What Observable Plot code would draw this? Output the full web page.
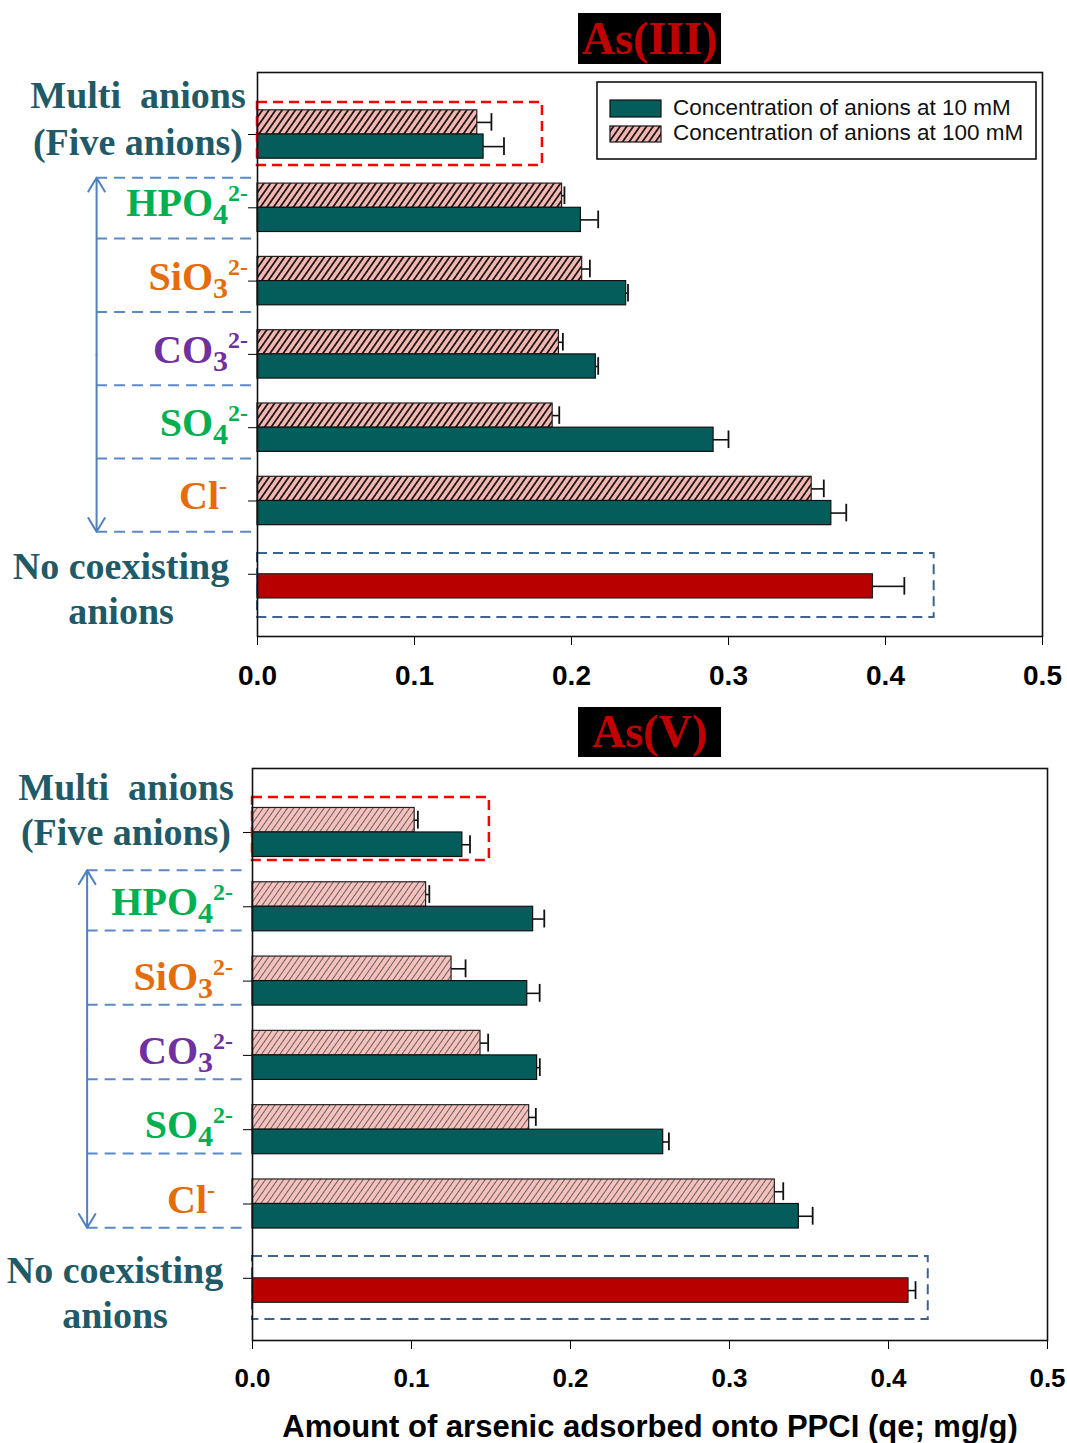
<!DOCTYPE html>
<html><head><meta charset="utf-8">
<script src="https://cdn.jsdelivr.net/npm/d3@7"></script>
<script src="https://cdn.jsdelivr.net/npm/@observablehq/plot@0.6"></script>
<style>
body{margin:0;background:#fff;}
#wrap{position:relative;width:1067px;height:1443px;overflow:hidden;background:#fff;}
.panel{position:absolute;left:0;}
.panel svg{background:transparent !important;}
.p1 g[aria-label^="x-axis"] text{font:bold 28px "Liberation Sans",Arial,sans-serif;fill:#000;}
.p2 g[aria-label^="x-axis"] text{font:bold 26px "Liberation Sans",Arial,sans-serif;fill:#000;}
.ttl{position:absolute;background:#000;color:#c00000;font:bold 46px "Liberation Serif","Times New Roman",serif;text-align:center;z-index:5;}
.xtitle{position:absolute;left:0;width:1300px;text-align:center;font:bold 31px "Liberation Sans",Arial,sans-serif;color:#000;z-index:5;white-space:nowrap;line-height:36px;}
</style></head>
<body><div id="wrap"></div>
<script>
// ---------------- data ----------------
const categories = ["Multi anions (Five anions)", "HPO4 2-", "SiO3 2-", "CO3 2-", "SO4 2-", "Cl-", "No coexisting anions"];
const seriesNames = ["Concentration of anions at 10 mM", "Concentration of anions at 100 mM"];
const xTicks = [0, 0.1, 0.2, 0.3, 0.4, 0.5];

// As(III): first six categories (anion present), then no coexisting
const asIII_10mM      = [0.144, 0.206, 0.2348, 0.2155, 0.2905, 0.3655];
const asIII_10mM_err  = [0.013, 0.011, 0.0012, 0.0015, 0.0095, 0.0095];
const asIII_100mM     = [0.140, 0.194, 0.2068, 0.192, 0.188, 0.353];
const asIII_100mM_err = [0.009, 0.0015, 0.0049, 0.0025, 0.0042, 0.0077];
const asIII_none = 0.392, asIII_none_err = 0.020;

// As(V)
const asV_10mM      = [0.132, 0.1765, 0.1728, 0.179, 0.2583, 0.3436];
const asV_10mM_err  = [0.0048, 0.007, 0.0078, 0.0017, 0.0036, 0.0087];
const asV_100mM     = [0.102, 0.1092, 0.1252, 0.1434, 0.174, 0.3285];
const asV_100mM_err = [0.002, 0.002, 0.0088, 0.0048, 0.0042, 0.0053];
const asV_none = 0.4126, asV_none_err = 0.0044;

// annotation box extents (x, in mg/g)
const asIII_boxMultiX = 0.1815, asIII_boxNoneX = 0.431;
const asV_boxMultiX = 0.149, asV_boxNoneX = 0.425;

// label text pieces: 0 normal, 1 subscript, 2 superscript
const anionLabels = [null,
  [["HPO",0],["4",1],["2-",2]],
  [["SiO",0],["3",1],["2-",2]],
  [["CO",0],["3",1],["2-",2]],
  [["SO",0],["4",1],["2-",2]],
  [["Cl",0],["-",2]],
  null];
const twoLineLabels = {0: ["Multi  anions", "(Five anions)"], 6: ["No coexisting", "anions"]};
const labelColors = ["#1f5a66", "#00b050", "#e46c0a", "#7030a0", "#00b050", "#e46c0a", "#1f5a66"];

// ---------------- styles ----------------
const TEAL = "#045d5b", RED = "#b80000", SEP_BLUE = "#5b89c8", BOX_BLUE = "#3f6391";
const H = 0.33;   // bar thickness (category-step units)
const CAP = 0.12; // half cap height

function makePanel(cfg) {
  const rows10 = cfg.v10.map((v, i) => ({i, v, e: cfg.e10[i]}));
  const rows100 = cfg.v100.map((v, i) => ({i, v, e: cfg.e100[i]}));
  const none = [{i: 6, v: cfg.vNone, e: cfg.eNone}];
  const sepTop = 1 - cfg.sepTopOff;
  const seps = [sepTop, ...d3.range(1, 6).map(i => i + cfg.sepOff)];
  const sepBottom = seps[seps.length - 1];
  const mid = (sepTop + sepBottom) / 2;
  const arrows = [{y1: mid, y2: sepTop}, {y1: mid, y2: sepBottom}];
  const boxes = [
    {x2: cfg.boxMultiX, y1: cfg.boxMultiY[0], y2: cfg.boxMultiY[1], c: "#ff0000", w: 2.5},
    {x2: cfg.boxNoneX, y1: 6 + cfg.boxNoneY[0], y2: 6 + cfg.boxNoneY[1], c: BOX_BLUE, w: 2}
  ];
  const errMarks = (rows, off) => [
    Plot.ruleY(rows, {y: d => d.i + off, x1: "v", x2: d => d.v + d.e, stroke: "#111", strokeWidth: 1.6}),
    Plot.ruleX(rows, {x: d => d.v + d.e, y1: d => d.i + off - CAP, y2: d => d.i + off + CAP, stroke: "#111", strokeWidth: 1.8})
  ];
  const plot = Plot.plot({
    width: cfg.width, height: cfg.height,
    marginLeft: cfg.mL, marginRight: cfg.mR, marginTop: cfg.mT, marginBottom: cfg.mB,
    style: {fontFamily: "Liberation Sans, Arial, sans-serif", background: "transparent", overflow: "visible"},
    x: {domain: [0, 0.5], ticks: xTicks, tickFormat: d3.format(".1f"), tickSize: 9, tickPadding: cfg.tickPad, label: null},
    y: {domain: cfg.yDomain, ticks: d3.range(7), tickFormat: () => "", tickSize: 9, label: null},
    marks: [
      Plot.rect(rows100, {x1: 0, x2: "v", y1: d => d.i - H, y2: "i", fill: `url(#${cfg.hatchId})`, stroke: "#222", strokeWidth: 1.2}),
      Plot.rect(rows10, {x1: 0, x2: "v", y1: "i", y2: d => d.i + H, fill: TEAL, stroke: "#111", strokeWidth: 1.2}),
      Plot.rect(none, {x1: 0, x2: "v", y1: "i", y2: d => d.i + H, fill: RED, stroke: "#222", strokeWidth: 1.2}),
      ...errMarks(rows100, -H / 2),
      ...errMarks(rows10, H / 2),
      ...errMarks(none, H / 2),
      Plot.rect(boxes, {x1: 0, x2: "x2", y1: "y1", y2: "y2", fill: "none", stroke: "c", strokeWidth: "w", strokeDasharray: "10,6"}),
      Plot.ruleY(seps, {x1: cfg.sepX1, x2: cfg.sepX2, stroke: SEP_BLUE, strokeWidth: 2, strokeDasharray: "11,7"}),
      Plot.arrow(arrows, {x1: cfg.arrowX, x2: cfg.arrowX, y1: "y1", y2: "y2", stroke: "#4f81bd", strokeWidth: 2, headLength: 12, headAngle: 62}),
      Plot.frame({stroke: "#111", strokeWidth: 1.6})
    ]
  });
  const svg = d3.select(plot);
  const defs = svg.insert("defs", ":first-child");
  const pat = defs.append("pattern").attr("id", cfg.hatchId).attr("patternUnits", "userSpaceOnUse")
    .attr("width", cfg.hatch.sp).attr("height", 10).attr("patternTransform", "rotate(35)");
  pat.append("rect").attr("width", cfg.hatch.sp).attr("height", 10).attr("fill", cfg.hatch.bg);
  pat.append("line").attr("x1", cfg.hatch.sp / 2).attr("x2", cfg.hatch.sp / 2).attr("y1", 0).attr("y2", 10)
    .attr("stroke", cfg.hatch.ink).attr("stroke-width", cfg.hatch.lw);

  const xs = plot.scale("x"), ys = plot.scale("y");
  const g = svg.append("g");
  // category labels
  categories.forEach((c, i) => {
    const y0 = ys.apply(i);
    if (twoLineLabels[i]) {
      const offs = i === 0 ? cfg.multiOff : cfg.noneOff;
      const cx = i === 0 ? cfg.multiCx : cfg.noneCx;
      twoLineLabels[i].forEach((line, k) => {
        g.append("text").attr("x", cx).attr("y", y0 + offs[k]).attr("text-anchor", "middle")
          .style("white-space", "pre").attr("fill", labelColors[i])
          .style("font", 'bold 38px "Liberation Serif","Times New Roman",serif').text(line);
      });
    } else {
      const segs = anionLabels[i];
      const t = g.append("text").attr("x", xs.apply(0) - cfg.labelGap + (i === 5 ? cfg.clDx : 0))
        .attr("y", y0 + 9).attr("text-anchor", "end").attr("fill", labelColors[i])
        .style("font-family", '"Liberation Serif","Times New Roman",serif').style("font-weight", "bold");
      let cur = 0;
      const shift = [0, 8, -15], size = [40, 30, 24];
      segs.forEach(([s, k]) => {
        t.append("tspan").attr("dy", shift[k] - cur).style("font-size", size[k] + "px").text(s);
        cur = shift[k];
      });
    }
  });
  return plot;
}

const wrap = document.getElementById("wrap");

const p1 = makePanel({
  width: 1067, height: 700, mL: 257, mR: 25, mT: 72, mB: 64, tickPad: 20,
  yDomain: [6.849, -0.846],
  v10: asIII_10mM, e10: asIII_10mM_err, v100: asIII_100mM, e100: asIII_100mM_err, vNone: asIII_none, eNone: asIII_none_err,
  boxMultiX: asIII_boxMultiX, boxNoneX: asIII_boxNoneX, boxMultiY: [-0.437, 0.423], boxNoneY: [-0.284, 0.589],
  sepTopOff: 0.41, sepOff: 0.42, sepX1: -0.1025, sepX2: -0.001, arrowX: -0.1025,
  hatchId: "hatch3", hatch: {sp: 5.4, bg: "#f3b6b1", ink: "#111", lw: 1.7},
  multiOff: [-26, 21], noneOff: [5, 50], multiCx: 138, noneCx: 121, labelGap: 9, clDx: -21
});
const d1 = document.createElement("div"); d1.className = "panel p1"; d1.style.top = "0px"; d1.appendChild(p1); wrap.appendChild(d1);

const p2 = makePanel({
  width: 1067, height: 743, mL: 252, mR: 20, mT: 68, mB: 103, tickPad: 19,
  yDomain: [6.837, -0.861],
  v10: asV_10mM, e10: asV_10mM_err, v100: asV_100mM, e100: asV_100mM_err, vNone: asV_none, eNone: asV_none_err,
  boxMultiX: asV_boxMultiX, boxNoneX: asV_boxNoneX, boxMultiY: [-0.471, 0.377], boxNoneY: [-0.293, 0.554],
  sepTopOff: 0.49, sepOff: 0.32, sepX1: -0.104, sepX2: -0.004, arrowX: -0.104,
  hatchId: "hatch5", hatch: {sp: 5, bg: "#f6c0bc", ink: "#555", lw: 0.9},
  multiOff: [-32, 13], noneOff: [5, 50], multiCx: 126, noneCx: 115, labelGap: 19, clDx: -18
});
const d2 = document.createElement("div"); d2.className = "panel p2"; d2.style.top = "700px"; d2.appendChild(p2); wrap.appendChild(d2);

// legend (inside top panel)
(function () {
  const svg = d3.select(p1);
  const lg = svg.append("g");
  lg.append("rect").attr("x", 597).attr("y", 82).attr("width", 439).attr("height", 77).attr("fill", "#fff").attr("stroke", "#111").attr("stroke-width", 1.6);
  lg.append("rect").attr("x", 610).attr("y", 100).attr("width", 51).attr("height", 17).attr("fill", TEAL).attr("stroke", "#111").attr("stroke-width", 1.2);
  lg.append("rect").attr("x", 610).attr("y", 126).attr("width", 51).attr("height", 16).attr("fill", "url(#hatch3)").attr("stroke", "#111").attr("stroke-width", 1.2);
  seriesNames.forEach((s, k) => lg.append("text").attr("x", 673).attr("y", 115 + 25 * k).attr("text-anchor", "start")
    .style("font", '22.5px "Liberation Sans",Arial,sans-serif').attr("fill", "#111").text(s));
})();

// titles
function title(txt, top, h) {
  const t = document.createElement("div"); t.className = "ttl";
  t.style.left = "578px"; t.style.top = top + "px"; t.style.width = "143px"; t.style.height = h + "px"; t.style.lineHeight = h + "px";
  t.textContent = txt; wrap.appendChild(t);
}
title("As(III)", 13, 51);
title("As(V)", 707, 50);

const xt = document.createElement("div"); xt.className = "xtitle";
xt.style.left = "0px"; xt.style.top = "1409px";
xt.textContent = "Amount of arsenic adsorbed onto PPCI (qe; mg/g)";
wrap.appendChild(xt);
</script>
</body></html>
